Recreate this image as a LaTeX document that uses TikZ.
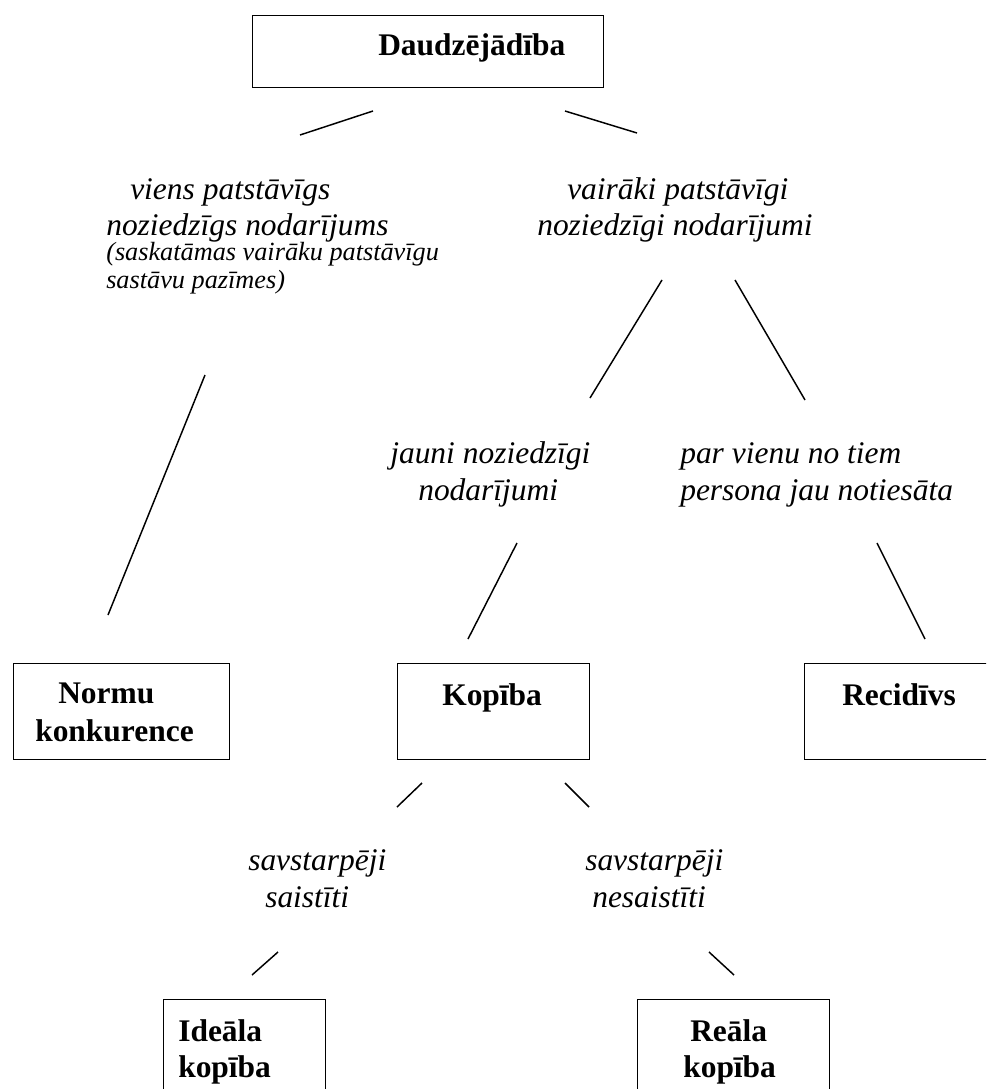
\documentclass[tikz,border=0pt]{standalone}
\usepackage{fontspec}
\setmainfont{Liberation Serif}
\tikzset{
  box/.style={draw, line width=1.1pt, inner sep=0pt, anchor=north west, minimum height=72pt},
  bt/.style={font=\fontsize{23.6}{27}\selectfont\bfseries, anchor=base west, inner sep=0pt},
  it/.style={font=\fontsize{23.6}{27}\selectfont\itshape, anchor=base west, inner sep=0pt},
  sm/.style={font=\fontsize{19.7}{21}\selectfont\itshape, anchor=base west, inner sep=0pt},
  ln/.style={line width=1.1pt}
}
\begin{document}
\begin{tikzpicture}[x=0.75pt, y=-0.75pt]
\clip (0,0) rectangle (986,1089);
\fill[white] (0,0) rectangle (986,1089);

% boxes
\node[box, minimum width=263.25pt, minimum height=54pt] (top) at (252,15) {};
\node[box, minimum width=162pt] (normu) at (13,663) {};
\node[box, minimum width=144pt] (kopiba) at (397,663) {};
\node[box, minimum width=144pt] (recid) at (804,663) {};
\node[box, minimum width=121.5pt] (ideala) at (163,999) {};
\node[box, minimum width=144pt] (reala) at (637,999) {};

% box texts
\node[bt] (tTop) at (378,55) {Daudzējādība};
\node[bt] (tNormuA) at (58,703) {Normu};
\node[bt] (tNormuB) at (35,741) {konkurence};
\node[bt] (tKop) at (442,705) {Kopība};
\node[bt] (tRec) at (842,705) {Recidīvs};
\node[bt] (tIdA) at (178,1041) {Ideāla};
\node[bt] (tIdB) at (178,1077) {kopība};
\node[bt] (tReA) at (690,1041) {Reāla};
\node[bt] (tReB) at (683,1077) {kopība};

% italic labels
\node[it] (vA) at (130,199) {viens patstāvīgs};
\node[it] (vB) at (106,235) {noziedzīgs nodarījums};
\node[sm] (vC) at (106,260) {(saskatāmas vairāku patstāvīgu};
\node[sm] (vD) at (106,288) {sastāvu pazīmes)};
\node[it] (wA) at (567,199) {vairāki patstāvīgi};
\node[it] (wB) at (537,235) {noziedzīgi nodarījumi};
\node[it] (jA) at (390,463) {jauni noziedzīgi};
\node[it] (jB) at (418,500) {nodarījumi};
\node[it] (pA) at (680,463) {par vienu no tiem};
\node[it] (pB) at (680,500) {persona jau notiesāta};
\node[it] (sA) at (248,870) {savstarpēji};
\node[it] (sB) at (265,907) {saistīti};
\node[it] (nA) at (585,870) {savstarpēji};
\node[it] (nB) at (592,907) {nesaistīti};

% connector end points
\coordinate (a1) at (300,135); \coordinate (a2) at (373,111);
\coordinate (b1) at (565,111); \coordinate (b2) at (637,133);
\coordinate (c1) at (205,375); \coordinate (c2) at (108,615);
\coordinate (d1) at (662,280); \coordinate (d2) at (590,398);
\coordinate (e1) at (735,280); \coordinate (e2) at (805,400);
\coordinate (f1) at (517,543); \coordinate (f2) at (468,639);
\coordinate (g1) at (877,543); \coordinate (g2) at (925,639);
\coordinate (h1) at (422,783); \coordinate (h2) at (397,807);
\coordinate (i1) at (565,783); \coordinate (i2) at (589,807);
\coordinate (k1) at (278,952); \coordinate (k2) at (252,975);
\coordinate (m1) at (709,952); \coordinate (m2) at (734,975);

\draw[ln] (a1) -- (a2);
\draw[ln] (b1) -- (b2);
\draw[ln] (c1) -- (c2);
\draw[ln] (d1) -- (d2);
\draw[ln] (e1) -- (e2);
\draw[ln] (f1) -- (f2);
\draw[ln] (g1) -- (g2);
\draw[ln] (h1) -- (h2);
\draw[ln] (i1) -- (i2);
\draw[ln] (k1) -- (k2);
\draw[ln] (m1) -- (m2);
\end{tikzpicture}
\end{document}
